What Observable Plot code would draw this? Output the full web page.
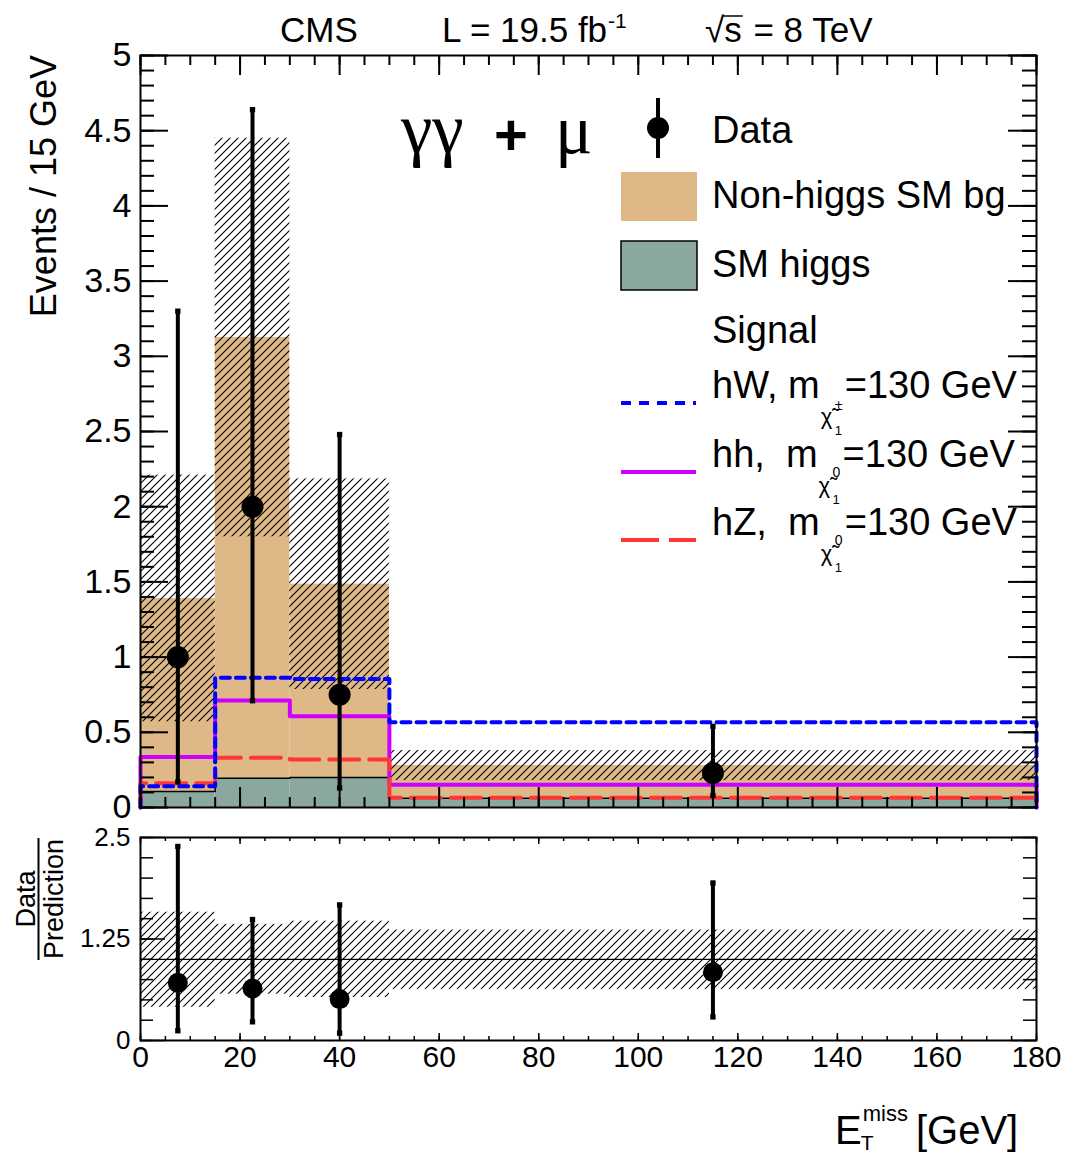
<!DOCTYPE html>
<html>
<head>
<meta charset="utf-8">
<script src="https://cdn.jsdelivr.net/npm/d3@7"></script>
<script src="https://cdn.jsdelivr.net/npm/@observablehq/plot@0.6"></script>
<style>
  body { margin: 0; background: #fff; }
  #chart { position: relative; width: 1066px; height: 1153px; overflow: hidden; background: #fff; }
  #chart svg { position: absolute; left: 0; }
</style>
</head>
<body>
<div id="chart"></div>
<script>
const FONT = '"Liberation Sans", Arial, Helvetica, sans-serif';
const SERIF = '"Liberation Serif", "Times New Roman", serif';

// E_T^miss binning (GeV)
const binLow = [0, 15, 30, 50];
const binHigh = [15, 30, 50, 180];
const binCenter = [7.5, 22.5, 40, 115];

// Stacked backgrounds (events / 15 GeV)
const smHiggs = [0.106, 0.194, 0.200, 0.062];
const nonHiggsSM = [1.284, 2.931, 1.285, 0.217];
const bgUncertainty = [0.82, 1.325, 0.70, 0.10];

// Signal hypotheses, m = 130 GeV
const signalHW = [0.142, 0.862, 0.855, 0.567];
const signalHH = [0.335, 0.711, 0.607, 0.151];
const signalHZ = [0.162, 0.330, 0.319, 0.064];

// Observed data with asymmetric intervals
const dataValue = [1.0, 2.0, 0.75, 0.23];
const dataLow = [0.17, 0.71, 0.13, 0.08];
const dataHigh = [3.30, 4.64, 2.48, 0.54];

// Data / prediction panel
const ratioValue = [0.71, 0.64, 0.51, 0.84];
const ratioLow = [0.12, 0.23, 0.09, 0.29];
const ratioHigh = [2.39, 1.49, 1.67, 1.94];
const ratioBandLow = [0.41, 0.57, 0.53, 0.63];
const ratioBandHigh = [1.58, 1.43, 1.47, 1.36];

// Axis ticks and labels
const xMajorTicks = [0, 20, 40, 60, 80, 100, 120, 140, 160, 180];
const xMinorTicks = d3.range(0, 181, 5);
const yMainLabels = [0, 0.5, 1, 1.5, 2, 2.5, 3, 3.5, 4, 4.5, 5];
const yMainMinor = d3.range(0, 51).map(i => i / 10);
const yRatioLabels = [0, 1.25, 2.5];
const yRatioMinor = d3.range(0, 11).map(i => i * 0.25);

const TAN = "#deb887";
const GREEN = "#8ba89f";
const BLUE = "#0000ff";
const MAGENTA = "#cc00ff";
const RED = "#ff3636";

const W = 1066;
const MAIN_H = 830, RATIO_H = 323;
const ML = 140, MR = 30;
const innerW = W - ML - MR;
const MAIN_MT = 55, MAIN_MB = 23;
const RATIO_MT = 7, RATIO_MB = 113;
const innerMain = MAIN_H - MAIN_MT - MAIN_MB;
const innerRatio = RATIO_H - RATIO_MT - RATIO_MB;

const bins = binLow.map((lo, i) => ({
  lo, hi: binHigh[i], mid: binCenter[i],
  higgs: smHiggs[i], total: smHiggs[i] + nonHiggsSM[i], unc: bgUncertainty[i],
  d: dataValue[i], dl: dataLow[i], dh: dataHigh[i],
  r: ratioValue[i], rl: ratioLow[i], rh: ratioHigh[i],
  bl: ratioBandLow[i], bh: ratioBandHigh[i]
}));

// Histogram outline: up from zero at the first edge, across every bin, back to zero
function stepPoints(values) {
  const pts = [{x: binLow[0], y: 0}];
  values.forEach((v, i) => pts.push({x: binLow[i], y: v}, {x: binHigh[i], y: v}));
  pts.push({x: binHigh[binHigh.length - 1], y: 0});
  return pts;
}

// Inward-pointing frame ticks on all four sides
function frameTicks(xs, xLen, ys, yLen, innerH, width) {
  return [
    Plot.tickX(xs, {x: d => d, stroke: "black", strokeWidth: width, insetTop: innerH - xLen}),
    Plot.tickX(xs, {x: d => d, stroke: "black", strokeWidth: width, insetBottom: innerH - xLen}),
    Plot.tickY(ys, {y: d => d, stroke: "black", strokeWidth: width, insetRight: innerW - yLen}),
    Plot.tickY(ys, {y: d => d, stroke: "black", strokeWidth: width, insetLeft: innerW - yLen})
  ];
}

const mainPlot = Plot.plot({
  width: W, height: MAIN_H,
  marginLeft: ML, marginRight: MR, marginTop: MAIN_MT, marginBottom: MAIN_MB,
  x: {domain: [0, 180], axis: null},
  y: {domain: [0, 5], axis: null},
  style: {fontFamily: FONT, background: "transparent", overflow: "visible"},
  marks: [
    Plot.rect(bins, {x1: "lo", x2: "hi", y1: "higgs", y2: "total", fill: TAN}),
    Plot.rect(bins, {x1: "lo", x2: "hi", y1: 0, y2: "higgs", fill: GREEN}),
    Plot.line(stepPoints(smHiggs), {x: "x", y: "y", stroke: "black", strokeWidth: 1.5}),
    Plot.rect(bins, {x1: "lo", x2: "hi", y1: d => d.total - d.unc, y2: d => d.total + d.unc, fill: "url(#hatchMain)"}),
    Plot.line(stepPoints(signalHH), {x: "x", y: "y", stroke: MAGENTA, strokeWidth: 4}),
    Plot.line(stepPoints(signalHZ), {x: "x", y: "y", stroke: RED, strokeWidth: 4, strokeDasharray: "30,10"}),
    Plot.line(stepPoints(signalHW), {x: "x", y: "y", stroke: BLUE, strokeWidth: 4, strokeDasharray: "9,6"}),
    Plot.ruleX(bins, {x: "mid", y1: "dl", y2: "dh", stroke: "black", strokeWidth: 4}),
    Plot.dot(bins, {x: "mid", y: "dl", symbol: "square", r: 3, fill: "black"}),
    Plot.dot(bins, {x: "mid", y: "dh", symbol: "square", r: 3, fill: "black"}),
    Plot.dot(bins, {x: "mid", y: "d", r: 11, fill: "black"}),
    ...frameTicks(xMinorTicks, 10, yMainMinor, 14, innerMain, 2),
    ...frameTicks(xMajorTicks, 20, yMainLabels, 28, innerMain, 2),
    Plot.frame({stroke: "black", strokeWidth: 2}),
    Plot.text(yMainLabels, {y: d => d, text: d => String(d), frameAnchor: "left", textAnchor: "end", dx: -9, fontSize: 34, fontFamily: FONT, fill: "black"})
  ]
});

const ratioPlot = Plot.plot({
  width: W, height: RATIO_H,
  marginLeft: ML, marginRight: MR, marginTop: RATIO_MT, marginBottom: RATIO_MB,
  x: {domain: [0, 180], axis: null},
  y: {domain: [0, 2.5], axis: null},
  style: {fontFamily: FONT, background: "transparent", overflow: "visible"},
  marks: [
    Plot.rect(bins, {x1: "lo", x2: "hi", y1: "bl", y2: "bh", fill: "url(#hatchRatio)"}),
    Plot.ruleY([1], {stroke: "black", strokeWidth: 1.2}),
    Plot.ruleX(bins, {x: "mid", y1: "rl", y2: "rh", stroke: "black", strokeWidth: 4}),
    Plot.dot(bins, {x: "mid", y: "rl", symbol: "square", r: 3, fill: "black"}),
    Plot.dot(bins, {x: "mid", y: "rh", symbol: "square", r: 3, fill: "black"}),
    Plot.dot(bins, {x: "mid", y: "r", r: 10, fill: "black"}),
    ...frameTicks(xMinorTicks, 4, yRatioMinor, 13, innerRatio, 1.5),
    ...frameTicks(xMajorTicks, 7, yRatioLabels, 25, innerRatio, 1.5),
    Plot.frame({stroke: "black", strokeWidth: 2}),
    Plot.text(yRatioLabels, {y: d => d, text: d => String(d), frameAnchor: "left", textAnchor: "end", dx: -10, fontSize: 26, fontFamily: FONT, fill: "black"}),
    Plot.text(xMajorTicks, {x: d => d, text: d => String(d), frameAnchor: "bottom", dy: 26, fontSize: 30, fontFamily: FONT, fill: "black"})
  ]
});

const chart = document.getElementById("chart");
mainPlot.style.top = "0px";
ratioPlot.style.top = MAIN_H + "px";
chart.append(mainPlot, ratioPlot);

// Diagonal hatch fill used for the background uncertainty
function addHatch(svg, id, step, width) {
  const p = d3.select(svg).insert("defs", ":first-child")
    .append("pattern").attr("id", id)
    .attr("patternUnits", "userSpaceOnUse")
    .attr("width", step).attr("height", step);
  p.append("path")
    .attr("d", `M0,${step}L${step},0M${-step / 2},${step / 2}L${step / 2},${-step / 2}M${step / 2},${step * 1.5}L${step * 1.5},${step / 2}`)
    .attr("stroke", "black").attr("stroke-width", width).attr("fill", "none");
}
addHatch(mainPlot, "hatchMain", 8, 1.1);
addHatch(ratioPlot, "hatchRatio", 8, 1.1);

function addText(g, x, y, str, size, opts = {}) {
  const t = g.append("text")
    .attr("x", x).attr("y", y)
    .attr("font-size", size)
    .attr("font-family", opts.family || FONT)
    .attr("fill", "black")
    .attr("text-anchor", opts.anchor || "start")
    .text(str);
  if (opts.weight) t.attr("font-weight", opts.weight);
  if (opts.transform) t.attr("transform", opts.transform);
  return t;
}
const textEnd = t => +t.attr("x") + t.node().getComputedTextLength();

const gm = d3.select(mainPlot).append("g").attr("class", "annotations");

// Header
addText(gm, 280, 42, "CMS", 35);
const lumi = addText(gm, 442, 42, "L = 19.5 fb", 35);
addText(gm, textEnd(lumi) + 1, 28, "-1", 21);
const rad = addText(gm, 705, 42, "√", 35);
const radEnd = textEnd(rad);
const sq = addText(gm, radEnd, 42, "s", 35);
gm.append("line").attr("x1", radEnd - 1).attr("x2", textEnd(sq) + 1)
  .attr("y1", 16).attr("y2", 16).attr("stroke", "black").attr("stroke-width", 1.5);
addText(gm, textEnd(sq) + 2, 42, " = 8 TeV", 35);

// y-axis title
addText(gm, 0, 0, "Events / 15 GeV", 36, {anchor: "end", transform: "translate(56,55) rotate(-90)"});

// Channel label
addText(gm, 401, 153, "γγ", 71, {family: SERIF});
addText(gm, 494, 155, "+", 58, {weight: "bold"});
addText(gm, 555, 153, "μ", 70, {family: SERIF});

// Legend
const LX = 712;
gm.append("line").attr("x1", 658).attr("x2", 658).attr("y1", 98).attr("y2", 158)
  .attr("stroke", "black").attr("stroke-width", 4);
gm.append("circle").attr("cx", 658).attr("cy", 128).attr("r", 11).attr("fill", "black");
addText(gm, LX, 143, "Data", 38);

gm.append("rect").attr("x", 621).attr("y", 172).attr("width", 76).attr("height", 49).attr("fill", TAN);
addText(gm, LX, 208, "Non-higgs SM bg", 38);

gm.append("rect").attr("x", 621).attr("y", 241).attr("width", 76).attr("height", 49)
  .attr("fill", GREEN).attr("stroke", "black").attr("stroke-width", 1.5);
addText(gm, LX, 277, "SM higgs", 38);

addText(gm, LX, 343, "Signal", 38);

// Legend entry with a chargino / neutralino mass subscript (chi with tilde, charge, index 1)
function signalEntry(prefix, baseline, charge, stroke, dash) {
  gm.append("line").attr("x1", 621).attr("x2", 696).attr("y1", baseline + 5).attr("y2", baseline + 5)
    .attr("stroke", stroke).attr("stroke-width", 4).attr("stroke-dasharray", dash);
  const t = addText(gm, LX, baseline, prefix, 38);
  const x = textEnd(t) + 1;
  addText(gm, x, baseline + 26, "χ\u0303", 22);
  const idx = gm.append("text").attr("font-family", FONT).attr("fill", "black").attr("text-anchor", "start");
  idx.append("tspan").attr("x", x + 14).attr("y", baseline + (charge === "±" ? 12 : 10)).attr("font-size", 14).text(charge);
  idx.append("tspan").attr("x", x + 14).attr("y", baseline + 37).attr("font-size", 13).text("1");
  addText(gm, x + 24, baseline, "=130 GeV", 38);
}
signalEntry("hW, m", 398, "±", BLUE, "10,8");
signalEntry("hh,  m", 467, "0", MAGENTA, null);
signalEntry("hZ,  m", 535, "0", RED, "38,10");

// Ratio panel titles
const gr = d3.select(ratioPlot).append("g").attr("class", "annotations");
const off = MAIN_H;
addText(gr, 0, 0, "Data", 27, {anchor: "middle", transform: `translate(35,${899 - off}) rotate(-90)`});
addText(gr, 0, 0, "Prediction", 27, {anchor: "middle", transform: `translate(63,${899 - off}) rotate(-90)`});
gr.append("line").attr("x1", 38.5).attr("x2", 38.5).attr("y1", 838 - off).attr("y2", 960 - off)
  .attr("stroke", "black").attr("stroke-width", 2);

// x-axis title
const e = addText(gr, 835, 1144 - off, "E", 40);
const eEnd = textEnd(e);
addText(gr, eEnd - 1, 1150 - off, "T", 21);
const miss = addText(gr, eEnd + 1, 1121 - off, "miss", 22);
addText(gr, textEnd(miss) + 8, 1144 - off, "[GeV]", 40);
</script>
</body>
</html>
